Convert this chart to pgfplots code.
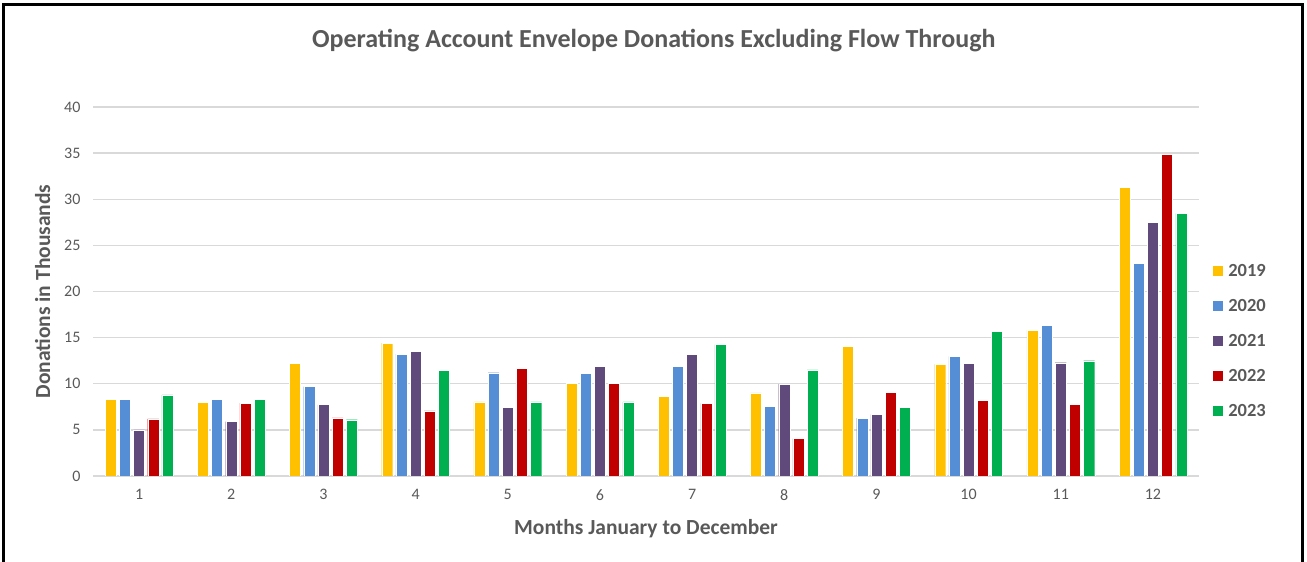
\documentclass[border=0pt]{standalone}
\usepackage{pgfplots}
\pgfplotsset{compat=1.18}
\usepackage{fontspec}
\setmainfont{Carlito}
\definecolor{c19}{HTML}{FFC000}
\definecolor{c20}{HTML}{558ED5}
\definecolor{c21}{HTML}{604A7B}
\definecolor{c22}{HTML}{C00000}
\definecolor{c23}{HTML}{00B050}
\definecolor{txt}{HTML}{595959}
\definecolor{gridc}{HTML}{D9D9D9}
\begin{document}
\begin{tikzpicture}[x=1pt,y=1pt]
\useasboundingbox (0,0) rectangle (1307,562);
\draw[line width=3pt] (3.5,0) -- (3.5,557) -- (1302.5,557) -- (1302.5,0);
\begin{axis}[
  at={(93pt,86pt)}, anchor=south west,
  scale only axis, width=1106pt, height=369pt,
  xmin=0.5, xmax=12.5, ymin=0, ymax=40,
  xtick={1,...,12}, ytick={0,5,...,40},
  ymajorgrids, grid style={color=gridc, line width=1.3pt},
  axis line style={draw=none}, major tick length=0pt,
  tick label style={color=txt, font=\fontsize{16}{18}\selectfont},
  /pgf/number format/assume math mode=true,
  yticklabel style={xshift=-9pt},
  xticklabel style={yshift=-10pt},
  title={Operating Account Envelope Donations Excluding Flow Through},
  title style={at={(axis description cs:0.507,1.165)}, anchor=center, color=txt, font=\fontsize{26}{29}\selectfont\bfseries},
  xlabel={Months January to December},
  xlabel style={at={(axis description cs:0.500,-0.142)}, anchor=center, color=txt, font=\fontsize{21.5}{24}\selectfont\bfseries},
  ylabel={Donations in Thousands},
  ylabel style={at={(axis description cs:-0.0455,0.5)}, anchor=center, color=txt, font=\fontsize{21.5}{24}\selectfont\bfseries},
  legend image code/.code={\fill[#1,draw=none] (0pt,-5pt) rectangle (10pt,5pt);},
  legend cell align=left,
  legend style={draw=none, fill=none, at={(axis description cs:1.01,0.366)}, anchor=west,
    font=\fontsize{18.5}{20}\selectfont\bfseries, text=txt, row sep=17.3pt,
    /tikz/every odd column/.append style={column sep=3pt}},
]
\addplot[ybar, bar width=0.12, bar shift=-0.308, fill=c19, draw=white, line width=0.3pt] coordinates {
(1,8.3) (2,8.0) (3,12.2) (4,14.4) (5,8.04) (6,10.07) (7,8.66) (8,9.0) (9,14.06) (10,12.1) (11,15.8) (12,31.27)};
\addlegendentry{2019}
\addplot[ybar, bar width=0.12, bar shift=-0.154, fill=c20, draw=white, line width=0.3pt] coordinates {
(1,8.3) (2,8.3) (3,9.7) (4,13.2) (5,11.2) (6,11.1) (7,11.9) (8,7.57) (9,6.27) (10,12.97) (11,16.34) (12,23.04)};
\addlegendentry{2020}
\addplot[ybar, bar width=0.12, bar shift=0, fill=c21, draw=white, line width=0.3pt] coordinates {
(1,5.0) (2,5.9) (3,7.75) (4,13.55) (5,7.46) (6,11.9) (7,13.2) (8,9.96) (9,6.67) (10,12.2) (11,12.28) (12,27.5)};
\addlegendentry{2021}
\addplot[ybar, bar width=0.12, bar shift=0.154, fill=c22, draw=white, line width=0.3pt] coordinates {
(1,6.2) (2,7.9) (3,6.3) (4,7.07) (5,11.67) (6,10.07) (7,7.86) (8,4.06) (9,9.09) (10,8.22) (11,7.75) (12,34.9)};
\addlegendentry{2022}
\addplot[ybar, bar width=0.12, bar shift=0.308, fill=c23, draw=white, line width=0.3pt] coordinates {
(1,8.8) (2,8.3) (3,6.1) (4,11.45) (5,8.04) (6,8.04) (7,14.24) (8,11.5) (9,7.46) (10,15.7) (11,12.5) (12,28.48)};
\addlegendentry{2023}
\end{axis}
\end{tikzpicture}
\end{document}
